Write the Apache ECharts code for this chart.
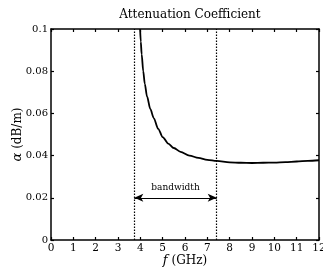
<!DOCTYPE html>
<html>
<head>
<meta charset="utf-8">
<script src="https://cdn.jsdelivr.net/npm/echarts@6/dist/echarts.min.js"></script>
<style>
  html, body { margin: 0; padding: 0; background: #fff; }
  #chart { width: 323px; height: 268px; }
</style>
</head>
<body>
<div id="chart"></div>
<script>
// frequency (GHz) and attenuation (dB/m)
var freq = [3.99, 4.02, 4.06, 4.13, 4.2, 4.3, 4.45, 4.6, 4.8, 5.0, 5.25, 5.5, 5.8, 6.2, 6.6, 7.0, 7.42, 8.0, 8.5, 9.0, 9.5, 10, 10.5, 11, 11.5, 12];
var alpha = [0.100, 0.094, 0.088, 0.080, 0.074, 0.068, 0.062, 0.0578, 0.0527, 0.0488, 0.0457, 0.0436, 0.0418, 0.0400, 0.0389, 0.0380, 0.0375, 0.0368, 0.0366, 0.0365, 0.0366, 0.0367, 0.0369, 0.0372, 0.0375, 0.0378];
// band edges and the arrow level
var bandEdges = [3.73, 7.42];
var arrowLevel = 0.02;
var bandLabel = 'bandwidth';

var serif = 'DejaVu Serif';
var chart = echarts.init(document.getElementById('chart'));

var points = freq.map(function (f, i) { return [f, alpha[i]]; });

var option = {
    animation: false,
    title: {
        text: 'Attenuation Coefficient',
        left: 185,
        textAlign: 'center',
        top: 4,
        textStyle: { fontFamily: serif, fontSize: 12, fontWeight: 'normal', color: '#000' }
    },
    grid: { left: 51, right: 4, top: 29, bottom: 28, containLabel: false, outerBoundsMode: 'none' },
    xAxis: [{
        type: 'value', min: 0, max: 12, interval: 1,
        name: '{i|f} (GHz)', nameLocation: 'middle', nameGap: 14, nameMoveOverlap: false,
        nameTextStyle: {
            fontFamily: serif, fontSize: 12, color: '#000',
            rich: { i: { fontFamily: serif, fontStyle: 'italic', fontSize: 13, color: '#000' } }
        },
        axisLine: { show: true, onZero: false, lineStyle: { color: '#000', width: 1.5 } },
        axisTick: { inside: true, length: 3, lineStyle: { color: '#000', width: 1.2 } },
        axisLabel: { fontFamily: serif, fontSize: 10.5, color: '#000', margin: 3, showMaxLabel: true },
        splitLine: { show: false }
    }, {
        type: 'value', min: 0, max: 12, interval: 1, position: 'top',
        axisLine: { show: true, onZero: false, lineStyle: { color: '#000', width: 1.5 } },
        axisTick: { inside: true, length: 3, lineStyle: { color: '#000', width: 1.2 } },
        axisLabel: { show: false },
        splitLine: { show: false }
    }],
    yAxis: [{
        type: 'value', min: 0, max: 0.1, interval: 0.02,
        name: '{i|α} (dB/m)', nameLocation: 'middle', nameGap: 27, nameMoveOverlap: false,
        nameTextStyle: {
            fontFamily: serif, fontSize: 12, color: '#000',
            rich: { i: { fontFamily: serif, fontStyle: 'italic', fontSize: 13, color: '#000' } }
        },
        axisLine: { show: true, onZero: false, lineStyle: { color: '#000', width: 1.5 } },
        axisTick: { inside: true, length: 3, lineStyle: { color: '#000', width: 1.2 } },
        axisLabel: { fontFamily: serif, fontSize: 10, color: '#000', margin: 3 },
        splitLine: { show: false }
    }, {
        type: 'value', min: 0, max: 0.1, interval: 0.02, position: 'right',
        axisLine: { show: true, onZero: false, lineStyle: { color: '#000', width: 1.5 } },
        axisTick: { inside: true, length: 3, lineStyle: { color: '#000', width: 1.2 } },
        axisLabel: { show: false },
        splitLine: { show: false }
    }],
    series: [{
        type: 'line',
        data: points,
        showSymbol: false,
        smooth: 0.3,
        smoothMonotone: 'x',
        lineStyle: { color: '#000', width: 1.8 },
        markLine: {
            silent: true,
            symbol: ['none', 'none'],
            label: { show: false },
            lineStyle: { color: '#000', type: [1.5, 1.5], width: 1.2 },
            data: bandEdges.map(function (x) {
                return [{ coord: [x, 0] }, { coord: [x, 0.1] }];
            }).concat([[
                {
                    coord: [bandEdges[0], arrowLevel],
                    symbol: 'arrow', symbolSize: [6, 9],
                    lineStyle: { type: 'solid', width: 1.2 },
                    label: {
                        show: true, position: 'middle', formatter: bandLabel, distance: 6,
                        fontFamily: serif, fontSize: 9, color: '#000'
                    }
                },
                { coord: [bandEdges[1], arrowLevel], symbol: 'arrow', symbolSize: [6, 9] }
            ]])
        }
    }]
};

chart.setOption(option);
</script>
</body>
</html>
